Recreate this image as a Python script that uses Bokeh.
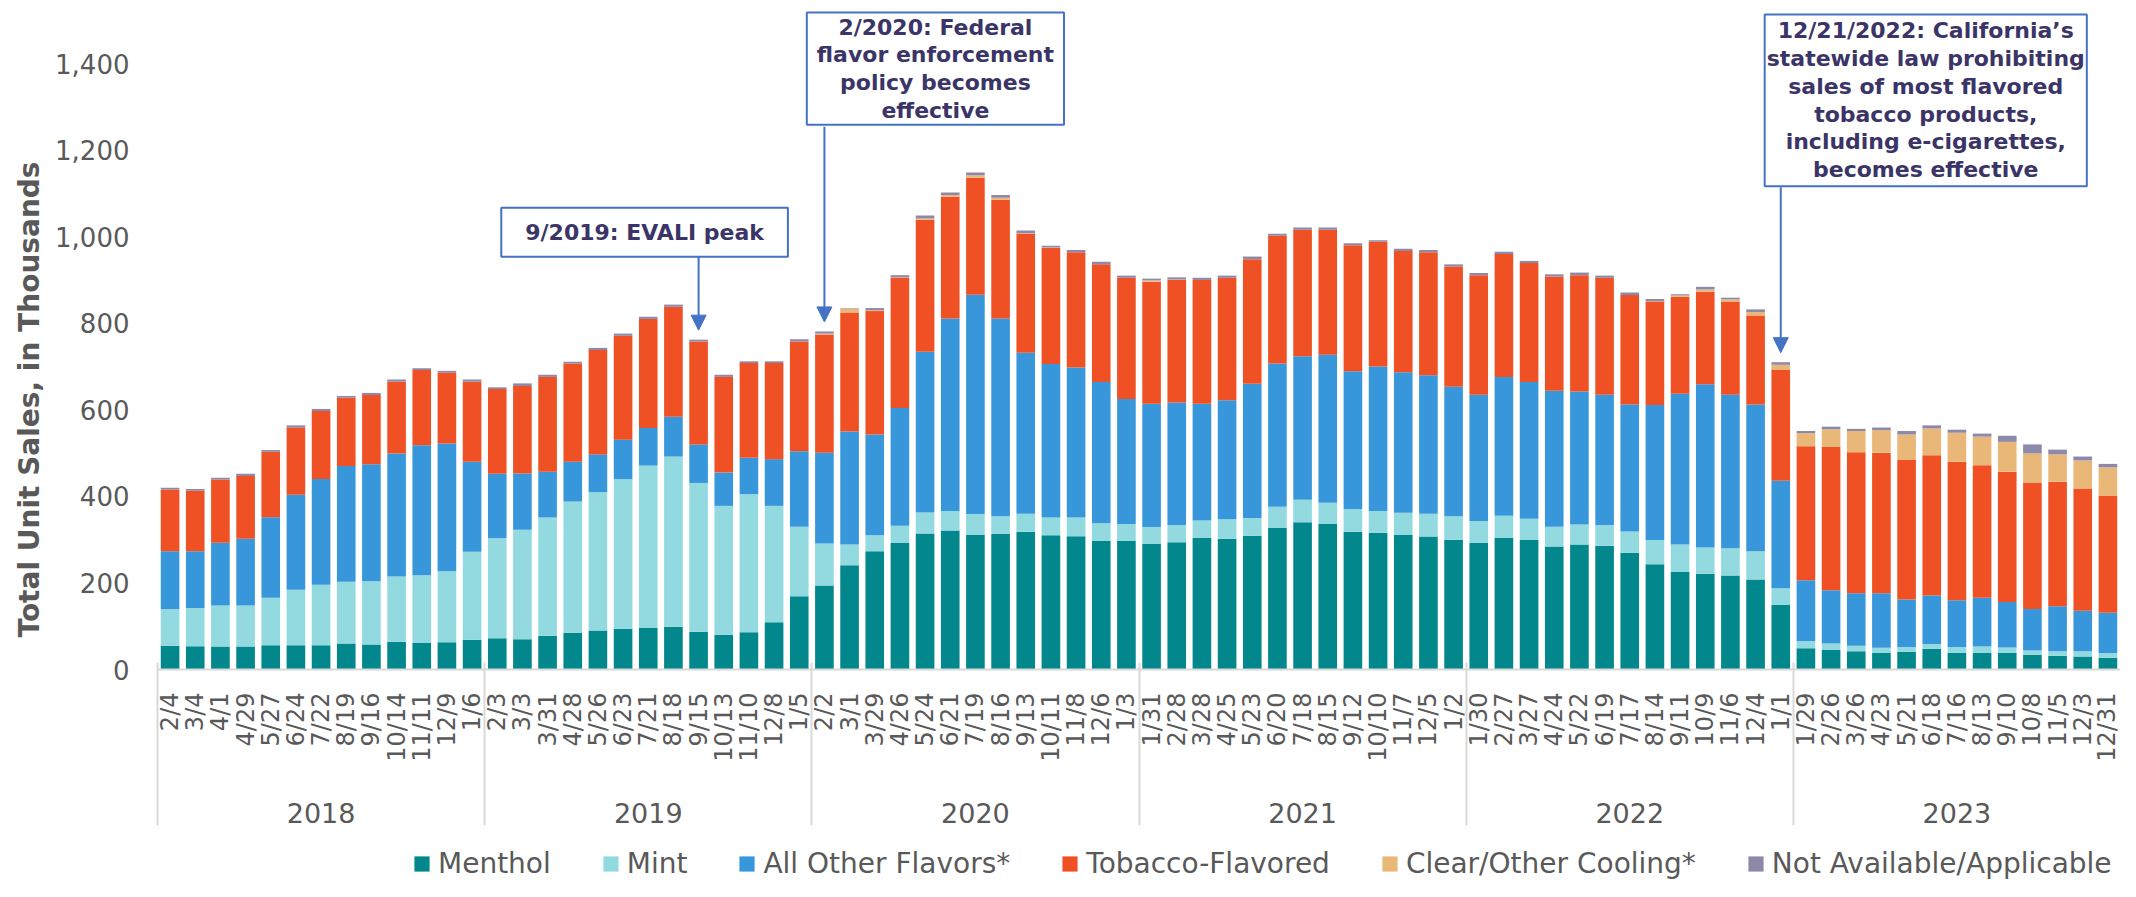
import math
from bokeh.plotting import figure
from bokeh.layouts import column
from bokeh.models import (Range1d, FixedTicker, NumeralTickFormatter, Legend,
                          LegendItem, Label, Arrow, NormalHead, ColumnDataSource, LinearAxis,
                          Title)
from bokeh.embed import file_html
from bokeh.resources import INLINE

# ---------------- data ----------------
years = ["2018", "2019", "2020", "2021", "2022", "2023"]
periods_2018 = ["2/4", "3/4", "4/1", "4/29", "5/27", "6/24", "7/22", "8/19", "9/16", "10/14", "11/11", "12/9", "1/6"]
periods_2019 = ["2/3", "3/3", "3/31", "4/28", "5/26", "6/23", "7/21", "8/18", "9/15", "10/13", "11/10", "12/8", "1/5"]
periods_2020 = ["2/2", "3/1", "3/29", "4/26", "5/24", "6/21", "7/19", "8/16", "9/13", "10/11", "11/8", "12/6", "1/3"]
periods_2021 = ["1/31", "2/28", "3/28", "4/25", "5/23", "6/20", "7/18", "8/15", "9/12", "10/10", "11/7", "12/5", "1/2"]
periods_2022 = ["1/30", "2/27", "3/27", "4/24", "5/22", "6/19", "7/17", "8/14", "9/11", "10/9", "11/6", "12/4", "1/1"]
periods_2023 = ["1/29", "2/26", "3/26", "4/23", "5/21", "6/18", "7/16", "8/13", "9/10", "10/8", "11/5", "12/3", "12/31"]

menthol = [55, 54, 53, 53, 56, 56, 56, 60, 58, 64, 61, 63, 69,
           72, 70, 78, 85, 90, 94, 96, 99, 87, 80, 86, 109, 169,
           194, 241, 273, 292, 314, 321, 311, 313, 318, 310, 308, 297, 297,
           290, 294, 304, 302, 309, 327, 340, 336, 318, 316, 311, 307, 300,
           293, 304, 299, 284, 289, 286, 270, 243, 225, 221, 217, 208, 149,
           49, 45, 42, 38, 41, 48, 38, 38, 38, 34, 32, 30, 27]
mint = [85, 88, 95, 95, 110, 128, 140, 143, 146, 151, 157, 164, 203,
        231, 253, 273, 303, 320, 346, 375, 393, 344, 298, 319, 269, 161,
        97, 48, 37, 40, 49, 45, 48, 41, 42, 41, 43, 41, 39,
        39, 40, 40, 45, 41, 49, 52, 49, 53, 50, 51, 53, 54,
        50, 51, 49, 46, 46, 48, 49, 56, 64, 61, 63, 65, 39,
        17, 15, 13, 12, 11, 11, 14, 15, 13, 10, 10, 12, 11]
other_flavors = [133, 131, 145, 154, 186, 220, 244, 267, 270, 284, 300, 295, 208,
                 149, 130, 106, 92, 87, 91, 87, 92, 89, 77, 84, 108, 174,
                 210, 261, 233, 272, 371, 445, 507, 457, 372, 355, 347, 326, 289,
                 285, 283, 270, 275, 310, 331, 332, 342, 318, 334, 325, 320, 299,
                 292, 321, 316, 314, 307, 301, 293, 312, 348, 377, 355, 339, 248,
                 140, 123, 121, 126, 110, 112, 108, 113, 105, 96, 104, 94, 93]
tobacco = [143, 140, 146, 145, 151, 155, 157, 158, 160, 166, 174, 164, 185,
           196, 202, 219, 227, 241, 240, 252, 254, 238, 221, 219, 222, 254,
           273, 275, 285, 301, 305, 281, 270, 274, 275, 268, 266, 272, 280,
           282, 283, 286, 283, 288, 295, 292, 289, 291, 288, 280, 284, 278,
           276, 284, 275, 264, 269, 270, 253, 239, 224, 214, 215, 206, 257,
           310, 331, 326, 325, 322, 324, 320, 306, 301, 292, 288, 282, 271]
clear_cooling = [0, 0, 0, 0, 0, 0, 0, 0, 0, 0, 0, 0, 0,
                 0, 0, 0, 0, 0, 0, 0, 0, 0, 0, 0, 0, 0,
                 2, 9, 2, 1, 3, 4, 6, 5, 1, 1, 0, 0, 0,
                 3, 1, 0, 0, 0, 0, 0, 0, 0, 0, 0, 0, 0,
                 0, 0, 0, 0, 0, 0, 0, 1, 3, 5, 5, 8, 11,
                 30, 41, 49, 52, 59, 62, 67, 66, 69, 67, 63, 65, 65]
not_available = [4, 4, 4, 5, 4, 5, 5, 4, 5, 5, 4, 4, 5,
                 4, 6, 5, 4, 5, 5, 5, 5, 4, 5, 4, 4, 5,
                 5, 1, 5, 5, 7, 6, 6, 6, 6, 4, 5, 6, 5,
                 4, 5, 5, 5, 6, 5, 5, 5, 5, 4, 5, 5, 5,
                 5, 5, 5, 5, 6, 5, 6, 5, 3, 6, 4, 6, 6,
                 5, 6, 5, 6, 8, 7, 7, 7, 14, 21, 11, 9, 8]

series_names = ["Menthol", "Mint", "All Other Flavors*", "Tobacco-Flavored",
                "Clear/Other Cooling*", "Not Available/Applicable"]
series_keys = ["menthol", "mint", "other", "tobacco", "clear", "na"]
series_colors = ["#01878C", "#93D9E0", "#3897DA", "#F05124", "#E9B777", "#8E88A9"]

y_title = "Total Unit Sales, in Thousands"
annotation_texts = [
    "9/2019: EVALI peak",
    "2/2020: Federal\nflavor enforcement\npolicy becomes\neffective",
    "12/21/2022: California\u2019s\nstatewide law prohibiting\nsales of most flavored\ntobacco products,\nincluding e-cigarettes,\nbecomes effective",
]
annotation_events = [("2019", "9/15"), ("2020", "2/2"), ("2022", "1/1")]

# ---------------- build ----------------
all_periods = [periods_2018, periods_2019, periods_2020, periods_2021, periods_2022, periods_2023]
keys = [(yr, lab) for yr, labs in zip(years, all_periods) for lab in labs]
n_bars = len(keys)
xpos = [i + 0.5 for i in range(n_bars)]          # slot centres on a linear scale
totals = [sum(v) for v in zip(menthol, mint, other_flavors, tobacco, clear_cooling, not_available)]

source = ColumnDataSource(dict(x=xpos, menthol=menthol, mint=mint, other=other_flavors,
                               tobacco=tobacco, clear=clear_cooling, na=not_available))

PX_PER_UNIT = 0.4329
TXT = "#595959"
GRID = "#D9D9D9"

p = figure(
    x_range=Range1d(0, n_bars),
    y_range=Range1d(0, 1541),
    width=2120, height=835,
    output_backend="svg", toolbar_location=None,
    min_border_left=157, min_border_right=0, min_border_top=2, min_border_bottom=166,
)
p.outline_line_color = None
p.xgrid.visible = False
p.ygrid.visible = False

renderers = p.vbar_stack(series_keys, x="x", width=0.74, source=source,
                         fill_color=series_colors, line_color=None)

# period axis
xa = p.xaxis[0]
xa.ticker = FixedTicker(ticks=xpos, minor_ticks=[])
xa.major_label_overrides = {x: k[1] for x, k in zip(xpos, keys)}
xa.major_label_orientation = math.pi / 2
xa.major_label_text_font = "DejaVu Sans"
xa.major_label_text_font_size = "24px"
xa.major_label_text_color = TXT
xa.major_label_standoff = 23
xa.major_tick_line_color = None
xa.major_tick_out = 0
xa.major_tick_in = 0
xa.minor_tick_line_color = None
xa.axis_line_color = GRID
xa.axis_line_width = 2

# year axis: labels centred on each year
year_first = [keys.index((yr, labs[0])) for yr, labs in zip(years, all_periods)]
year_centers = [f + len(labs) / 2 for f, labs in zip(year_first, all_periods)]
year_axis = LinearAxis(ticker=FixedTicker(ticks=year_centers, minor_ticks=[]),
                       major_label_overrides={c: y for c, y in zip(year_centers, years)})
year_axis.axis_line_color = None
year_axis.major_tick_line_color = None
year_axis.minor_tick_line_color = None
year_axis.major_tick_out = 0
year_axis.major_tick_in = 0
year_axis.major_label_standoff = 38
year_axis.major_label_text_font = "DejaVu Sans"
year_axis.major_label_text_font_size = "27px"
year_axis.major_label_text_color = TXT
p.add_layout(year_axis, "below")

# separator axis: no labels, its minor ticks point up as year separators
sep_axis = LinearAxis(ticker=FixedTicker(ticks=[], minor_ticks=year_first))
sep_axis.axis_line_color = None
sep_axis.major_tick_line_color = None
sep_axis.major_tick_out = 0
sep_axis.major_tick_in = 0
sep_axis.major_label_standoff = 0
sep_axis.minor_tick_line_color = GRID
sep_axis.minor_tick_line_width = 2
sep_axis.minor_tick_in = 163
sep_axis.minor_tick_out = 0
p.add_layout(sep_axis, "below")

ya = p.yaxis[0]
ya.ticker = FixedTicker(ticks=list(range(0, 1401, 200)))
ya.formatter = NumeralTickFormatter(format="0,0")
ya.axis_line_color = None
ya.major_tick_line_color = None
ya.minor_tick_line_color = None
ya.major_tick_out = 0
ya.major_tick_in = 0
ya.major_label_text_font = "DejaVu Sans"
ya.major_label_text_font_size = "26px"
ya.major_label_text_color = TXT
ya.major_label_standoff = 28

p.add_layout(Title(text=y_title, align="left", offset=32, standoff=14,
                   text_font="DejaVu Sans", text_font_size="28px", text_font_style="bold",
                   text_color=TXT), "left")

# annotations
BOX_BLUE = "#4472C4"
NAVY = "#3B3467"
box_offsets = [-54, 111, 145]          # px offset of box centre from event bar
box_centers_y = [1010, 1388, 1315]     # data units
box_heights_px = [49, 116, 174]
box_paddings = [(24, 12), (10, 2), (2, 4)]
for text, ev, xo, cy, hpx, pad in zip(annotation_texts, annotation_events, box_offsets,
                                       box_centers_y, box_heights_px, box_paddings):
    idx = keys.index(ev)
    xc = xpos[idx]
    p.add_layout(Label(x=xc, y=cy, x_offset=xo, text=text, text_align="center",
                       text_baseline="middle", text_font="DejaVu Sans", text_font_size="22px",
                       text_font_style="bold", text_color=NAVY, text_line_height=1.11,
                       border_line_color=BOX_BLUE, border_line_width=2,
                       background_fill_color="white", padding=pad))
    y_bottom = cy - (hpx / 2) / PX_PER_UNIT
    p.add_layout(Arrow(x_start=xc, y_start=y_bottom, x_end=xc, y_end=totals[idx] + 22,
                       line_color=BOX_BLUE, line_width=2,
                       end=NormalHead(size=15, fill_color=BOX_BLUE, line_color=BOX_BLUE)))

# legend strip (separate axis-less figure below the chart); zero-height proxies carry the colours
lf = figure(width=2120, height=46, output_backend="svg", toolbar_location=None,
            x_range=Range1d(0, 1), y_range=Range1d(0, 1), min_border=0,
            x_axis_type=None, y_axis_type=None)
lf.outline_line_color = None
legend_renderers = [lf.vbar(x=[0], top=[0], bottom=[0], width=0, fill_color=c, line_color=None)
                    for c in series_colors]
legend = Legend(items=[LegendItem(label=n, renderers=[r])
                       for n, r in zip(series_names, legend_renderers)],
                orientation="horizontal", location=(255, 1), padding=0, margin=0,
                spacing=50, label_standoff=7, glyph_width=19, glyph_height=19, label_height=19,
                label_text_font="DejaVu Sans", label_text_font_size="28px",
                label_text_color=TXT, border_line_color=None, background_fill_alpha=0)
lf.add_layout(legend)

page = column(p, lf, spacing=0)
open("out.html", "w").write(file_html(page, INLINE))
